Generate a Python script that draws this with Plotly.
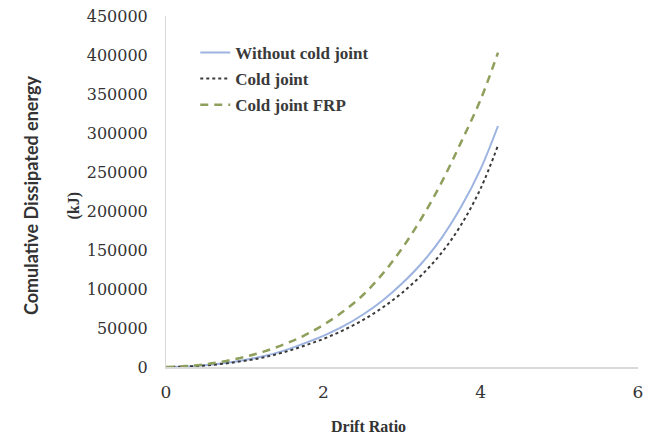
"""Cumulative dissipated energy vs drift ratio."""
import plotly.graph_objects as go

drift_ratio = [0, 0.25, 0.5, 0.75, 1.0, 1.25, 1.5, 1.75, 2.0, 2.25, 2.5, 2.75,
               3.0, 3.25, 3.5, 3.75, 4.0, 4.22]
without_cold_joint = [0, 700, 2200, 5000, 9000, 14000, 21000, 30000, 40000, 52000,
                      67000, 85000, 107000, 133000, 165000, 205000, 254000, 309000]
cold_joint = [0, 600, 2000, 4500, 8000, 12500, 19000, 27000, 36000, 47000,
              60000, 76000, 95000, 118000, 146000, 182000, 229000, 284000]
cold_joint_frp = [0, 1200, 3500, 7500, 13000, 20000, 29000, 40000, 54000, 71000,
                  92000, 119000, 152000, 191000, 236000, 288000, 343000, 403000]

serif = "DejaVu Serif"
times = "Liberation Serif"

fig = go.Figure()
fig.add_trace(go.Scatter(x=drift_ratio, y=without_cold_joint, mode="lines",
                         name="Without cold joint", legendgroup="a",
                         line=dict(color="#9db3e0", width=2, shape="spline")))
fig.add_trace(go.Scatter(x=drift_ratio, y=cold_joint, mode="lines",
                         name="Cold joint", legendgroup="b",
                         line=dict(color="#3a3a3a", width=2, dash="dot", shape="spline")))
fig.add_trace(go.Scatter(x=drift_ratio, y=cold_joint_frp, mode="lines",
                         name="Cold joint FRP", legendgroup="c",
                         line=dict(color="#8f9f5c", width=2.5, dash="8px,6px",
                                   shape="spline")))

# page body has an 8px margin, so the figure is 8px smaller than the window
fig.update_layout(
    width=648, height=430,
    margin=dict(l=158, r=18, t=8, b=71),
    paper_bgcolor="white", plot_bgcolor="white",
    font=dict(family=serif, size=15, color="#333333"),
    showlegend=True,
    legend=dict(x=0.062, y=0.946, xanchor="left", yanchor="top",
                font=dict(family=times, size=17, color="#3a3a3a", weight="bold"),
                tracegroupgap=1, bgcolor="rgba(0,0,0,0)"),
    xaxis=dict(range=[0, 6], tickvals=[0, 2, 4, 6], showgrid=False, zeroline=False,
               showline=True, linecolor="#d9d9d9", linewidth=2, ticks="",
               ticklabelstandoff=9, automargin=False, ticklabeloverflow="allow",
               tickfont=dict(family=serif, size=17, color="#333333")),
    yaxis=dict(range=[0, 450000], dtick=50000, showgrid=False, zeroline=False,
               showline=True, linecolor="#d9d9d9", linewidth=1, ticks="",
               ticklabelstandoff=14, tickformat="d", automargin=False,
               ticklabeloverflow="allow",
               tickfont=dict(family=serif, size=16, color="#333333")),
)

fig.add_annotation(text="<b>Drift Ratio</b>", xref="paper", yref="paper",
                   x=0.43, y=0, yshift=-70, showarrow=False,
                   font=dict(family=times, size=16, color="#333333"))
fig.add_annotation(text="<b>Comulative Dissipated energy</b>", xref="paper", yref="paper",
                   x=0, xshift=-148, y=0.49, textangle=-90, showarrow=False,
                   font=dict(family="Lato", size=18, color="#333333"))
fig.add_annotation(text="<b>(kJ)</b>", xref="paper", yref="paper",
                   x=0, xshift=-103, y=0.46, textangle=-90, showarrow=False,
                   font=dict(family=times, size=16, color="#333333"))

fig.write_html("out.html")
